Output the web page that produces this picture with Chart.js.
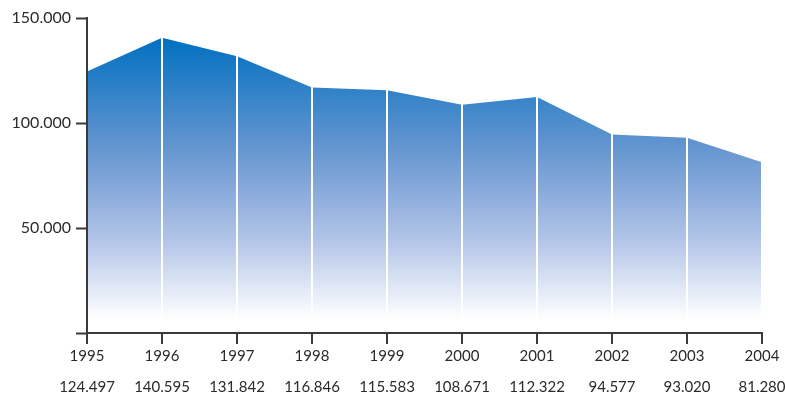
<!DOCTYPE html>
<html lang="en">
<head>
    <meta charset="UTF-8">
    <title>Yearly totals 1995-2004</title>
    <script src="https://cdn.jsdelivr.net/npm/chart.js"></script>
    <style>
        html, body {
            margin: 0;
            padding: 0;
            background: #fff;
        }
        #wrap {
            width: 785px;
            height: 401px;
        }
    </style>
</head>
<body>
    <div id="wrap"><canvas id="area-chart" width="785" height="401"></canvas></div>

    <script>
        const years = ['1995', '1996', '1997', '1998', '1999', '2000', '2001', '2002', '2003', '2004'];
        const totals = [124497, 140595, 131842, 116846, 115583, 108671, 112322, 94577, 93020, 81280];
        const yTicks = [0, 50000, 100000, 150000];

        function fmt(n) {
            return String(n).replace(/\B(?=(\d{3})+(?!\d))/g, '.');
        }

        // year on the first line, the value underneath
        const xLabels = years.map((y, i) => [y, fmt(totals[i])]);

        const axisColor = '#3a3a3a';
        const textColor = '#2b2b2b';
        const family = 'Lato, "DejaVu Sans", sans-serif';

        function fillGradient(context) {
            const area = context.chart.chartArea;
            if (!area) return '#6d9ad2';
            const g = context.chart.ctx.createLinearGradient(0, area.top + 19, 0, area.bottom - 14);
            g.addColorStop(0, '#0070c0');
            g.addColorStop(0.4, '#6796d0');
            g.addColorStop(0.72, '#b2c4e8');
            g.addColorStop(1, '#ffffff');
            return g;
        }

        const ctx = document.getElementById('area-chart').getContext('2d');
        new Chart(ctx, {
            type: 'line',
            data: {
                labels: xLabels,
                datasets: [{
                    data: totals,
                    fill: 'origin',
                    backgroundColor: fillGradient,
                    borderWidth: 0,
                    borderColor: 'rgba(0,0,0,0)',
                    pointRadius: 0,
                    tension: 0
                }]
            },
            options: {
                responsive: false,
                animation: false,
                layout: { padding: { top: 18, right: 23, left: 0, bottom: 0 } },
                plugins: {
                    legend: { display: false },
                    tooltip: { enabled: false }
                },
                scales: {
                    x: {
                        offset: false,
                        grid: {
                            color: c => c.index === 0 ? 'rgba(0,0,0,0)' : '#ffffff',
                            lineWidth: 2,
                            drawTicks: true,
                            tickColor: axisColor,
                            tickWidth: 2,
                            tickLength: 11,
                            z: 1
                        },
                        border: { display: true, color: axisColor, width: 2, z: 2 },
                        ticks: {
                            color: textColor,
                            font: { family: family, size: 15, lineHeight: 2.05 },
                            padding: -3,
                            autoSkip: false,
                            maxRotation: 0
                        },
                        afterFit: scale => {
                            scale.height = 68;
                            scale.paddingLeft = 0;
                            scale.paddingRight = 0;
                        }
                    },
                    y: {
                        min: 0,
                        max: 150000,
                        afterBuildTicks: scale => {
                            scale.ticks = yTicks.map(v => ({ value: v }));
                        },
                        grid: {
                            drawOnChartArea: false,
                            drawTicks: true,
                            tickColor: axisColor,
                            tickWidth: 2,
                            tickLength: 11
                        },
                        border: { display: true, color: axisColor, width: 2, z: 2 },
                        ticks: {
                            color: textColor,
                            font: { family: family, size: 16 },
                            padding: 5,
                            callback: v => v === 0 ? '' : fmt(v)
                        },
                        afterFit: scale => {
                            scale.width = 87;
                            scale.paddingTop = 0;
                            scale.paddingBottom = 0;
                        }
                    }
                }
            }
        });
    </script>
</body>
</html>
